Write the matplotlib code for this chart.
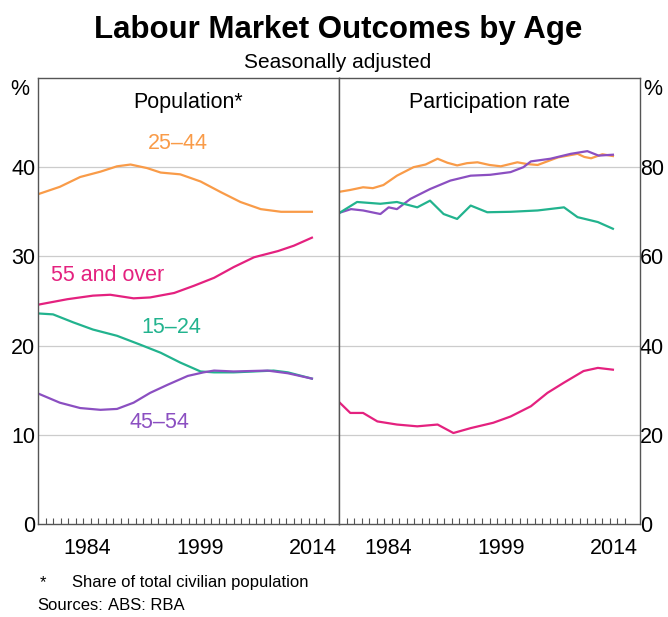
import matplotlib.pyplot as plt

plt.rcParams['font.family'] = ['Liberation Sans', 'DejaVu Sans']

# population share (% of civilian population)
pop_years_2544 = [1978.1, 1980.9, 1983.6, 1986.3, 1988.5, 1990.3, 1992.5, 1994.3, 1996.9,
                  1999.6, 2002.3, 2004.9, 2007.6, 2010.3, 2014.4]
pop_2544 = [37.0, 37.8, 38.9, 39.5, 40.1, 40.3, 39.9, 39.4, 39.2, 38.4, 37.2, 36.1, 35.3, 35.0, 35.0]

pop_years_55 = [1978.1, 1981.9, 1985.3, 1987.6, 1990.7, 1992.9, 1996.1, 1998.7, 2001.4,
                2004.0, 2006.7, 2009.9, 2012.0, 2014.4]
pop_55 = [24.6, 25.2, 25.6, 25.7, 25.3, 25.4, 25.9, 26.7, 27.6, 28.8, 29.9, 30.6, 31.2, 32.1]

pop_years_1524 = [1978.1, 1980.0, 1982.7, 1985.3, 1988.5, 1991.6, 1994.3, 1996.9, 1999.6,
                  2001.4, 2004.0, 2006.7, 2009.3, 2011.2, 2014.4]
pop_1524 = [23.6, 23.5, 22.6, 21.8, 21.1, 20.1, 19.2, 18.1, 17.1, 17.0, 17.0, 17.1, 17.2, 17.0, 16.3]

pop_years_4554 = [1978.1, 1980.9, 1983.6, 1986.3, 1988.5, 1990.7, 1992.9, 1995.2, 1997.9,
                  2000.0, 2001.4, 2004.0, 2008.5, 2011.2, 2014.4]
pop_4554 = [14.6, 13.6, 13.0, 12.8, 12.9, 13.6, 14.7, 15.6, 16.6, 17.0, 17.2, 17.1, 17.2, 16.9, 16.3]

# participation rates (%)
part_years_2544 = [1978.1, 1979.5, 1981.2, 1982.5, 1983.9, 1985.7, 1987.9, 1989.5, 1991.1, 1992.4,
                   1993.7, 1995.0, 1996.4, 1998.0, 1999.5, 2001.7, 2003.0, 2004.4, 2007.1,
                   2009.7, 2010.6, 2011.5, 2013.0, 2014.4]
part_2544 = [74.5, 74.9, 75.5, 75.3, 76.0, 78.1, 80.0, 80.6, 81.9, 81.0, 80.4, 80.9, 81.1, 80.5,
             80.2, 81.1, 80.7, 80.5, 82.2, 83.0, 82.3, 82.0, 82.9, 82.5]

part_years_4554 = [1978.1, 1979.6, 1981.2, 1983.5, 1984.6, 1985.7, 1987.5, 1990.1, 1992.8, 1995.5,
                   1998.1, 2000.8, 2002.5, 2003.5, 2006.1, 2008.8, 2011.0, 2012.5, 2014.4]
part_4554 = [69.8, 70.6, 70.3, 69.5, 71.0, 70.6, 72.9, 75.1, 77.0, 78.1, 78.3, 78.9, 80.0, 81.3,
             81.9, 83.0, 83.6, 82.6, 82.8]

part_years_1524 = [1978.1, 1980.4, 1983.5, 1985.7, 1988.4, 1990.1, 1991.9, 1993.7, 1995.5, 1997.7,
                   2000.8, 2004.4, 2007.9, 2009.7, 2012.4, 2014.4]
part_1524 = [69.8, 72.2, 71.8, 72.2, 71.0, 72.5, 69.5, 68.4, 71.4, 69.9, 70.0, 70.3, 71.0, 68.8,
             67.7, 66.2]

part_years_55 = [1978.1, 1979.5, 1981.2, 1983.1, 1985.7, 1988.4, 1991.1, 1993.2, 1995.5, 1998.5,
                 2000.8, 2003.5, 2005.7, 2007.9, 2010.5, 2012.4, 2014.4]
part_55 = [27.2, 24.9, 24.9, 23.0, 22.3, 21.9, 22.3, 20.4, 21.5, 22.7, 24.1, 26.4, 29.4, 31.7,
           34.3, 35.0, 34.6]

year_labels = ['1984', '1999', '2014']

ORANGE = '#F99B48'
PINK = '#E4217F'
TEAL = '#22B38E'
PURPLE = '#8B4FC1'
FS = 15.5

fig = plt.figure(figsize=(6.68, 6.17), dpi=100)
ax1 = fig.add_axes([38 / 668, 1 - 524 / 617, 301 / 668, 446 / 617])
ax2 = fig.add_axes([339 / 668, 1 - 524 / 617, 301 / 668, 446 / 617])

ax1.plot(pop_years_2544, pop_2544, color=ORANGE, lw=1.6)
ax1.plot(pop_years_55, pop_55, color=PINK, lw=1.6)
ax1.plot(pop_years_1524, pop_1524, color=TEAL, lw=1.6)
ax1.plot(pop_years_4554, pop_4554, color=PURPLE, lw=1.6)

ax2.plot(part_years_2544, part_2544, color=ORANGE, lw=1.6)
ax2.plot(part_years_4554, part_4554, color=PURPLE, lw=1.6)
ax2.plot(part_years_1524, part_1524, color=TEAL, lw=1.6)
ax2.plot(part_years_55, part_55, color=PINK, lw=1.6)

ax1.text(1996.6, 42.7, '25–44', color=ORANGE, fontsize=FS, ha='center', va='center')
ax1.text(1987.2, 27.9, '55 and over', color=PINK, fontsize=FS, ha='center', va='center')
ax1.text(1995.7, 22.0, '15–24', color=TEAL, fontsize=FS, ha='center', va='center')
ax1.text(1994.1, 11.4, '45–54', color=PURPLE, fontsize=FS, ha='center', va='center')

for ax, top, step in [(ax1, 50, 10), (ax2, 100, 20)]:
    ax.set_xlim(1978, 2018)
    ax.set_ylim(0, top)
    for v in range(step, top, step):
        ax.axhline(v, color='#cccccc', lw=0.9, zorder=0)
    ax.set_yticks(range(0, top, step))
    ax.set_xticks([1984.5, 1999.5, 2014.5])
    ax.set_xticklabels(year_labels)
    ax.set_xticks(range(1979, 2017), minor=True)
    ax.tick_params(axis='x', which='major', length=0, pad=10, labelsize=FS)
    ax.tick_params(axis='x', which='minor', direction='in', length=4, width=0.8, color='#555555')
    ax.tick_params(axis='y', length=0, labelsize=FS, pad=2)
    for s in ax.spines.values():
        s.set_color('#555555')
        s.set_linewidth(1.0)

ax2.yaxis.tick_right()
ax2.tick_params(axis='y', labelleft=False, labelright=True, pad=0)

ax1.text(-0.028, 0.974, '%', transform=ax1.transAxes, fontsize=FS, ha='right', va='center')
ax2.text(1.01, 0.974, '%', transform=ax2.transAxes, fontsize=FS, ha='left', va='center')

ax1.text(0.5, 0.944, 'Population*', transform=ax1.transAxes, fontsize=FS, ha='center', va='center')
ax2.text(0.5, 0.944, 'Participation rate', transform=ax2.transAxes, fontsize=FS,
         ha='center', va='center')

fig.text(338 / 668, 1 - 30 / 617, 'Labour Market Outcomes by Age', fontsize=22.5,
         fontweight='bold', ha='center', va='center')
fig.text(338 / 668, 1 - 62 / 617, 'Seasonally adjusted', fontsize=15, ha='center', va='center')

fig.text(40 / 668, 1 - 583 / 617, '*', fontsize=12, ha='left', va='center')
fig.text(72 / 668, 1 - 583 / 617, 'Share of total civilian population', fontsize=12,
         ha='left', va='center')
fig.text(37 / 668, 1 - 606 / 617, 'Sources:', fontsize=12, ha='left', va='center')
fig.text(108 / 668, 1 - 606 / 617, 'ABS: RBA', fontsize=12, ha='left', va='center')

fig.savefig('out.png', dpi=100)
